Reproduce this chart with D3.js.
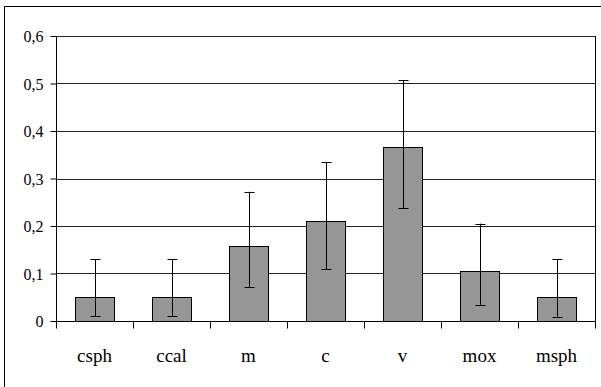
<!DOCTYPE html>
<html>
<head>
<meta charset="utf-8">
<script src="https://cdn.jsdelivr.net/npm/d3@7"></script>
<style>
  body { margin: 0; background: #fff; }
  svg { display: block; }
  svg text { font-family: 'Liberation Serif', 'Times New Roman', Tinos, 'DejaVu Serif', serif; }
</style>
</head>
<body>
<div id="chart"></div>
<script>
const categories = ['csph', 'ccal', 'm', 'c', 'v', 'mox', 'msph'];
const values = [0.051, 0.051, 0.158, 0.21, 0.366, 0.106, 0.051];
const errLow = [0.010, 0.010, 0.072, 0.109, 0.237, 0.034, 0.009];
const errHigh = [0.130, 0.130, 0.272, 0.334, 0.507, 0.205, 0.130];
const yTicks = [0, 0.1, 0.2, 0.3, 0.4, 0.5, 0.6];

const W = 601, H = 387;
const margin = { top: 36, right: 6, bottom: 66, left: 56 };
const width = W - margin.left - margin.right;
const height = H - margin.top - margin.bottom;

const svg = d3.select('#chart').append('svg')
  .attr('width', W)
  .attr('height', H);

// outer chart frame
svg.append('rect')
  .attr('x', 4.5).attr('y', 6.5)
  .attr('width', W).attr('height', H)
  .attr('fill', 'none')
  .attr('stroke', '#000')
  .attr('stroke-width', 1);

const g = svg.append('g')
  .attr('transform', 'translate(' + margin.left + ',' + margin.top + ')');

const x = d3.scaleBand().domain(categories).range([0, width]).paddingInner(0.5).paddingOuter(0.25);
const xBand = d3.scaleBand().domain(categories).range([0, width]);
const y = d3.scaleLinear().domain([0, 0.6]).range([height, 0]);

const fmt = d => String(d).replace('.', ',');

// gridlines
g.append('g')
  .selectAll('line')
  .data(yTicks.slice(1))
  .enter().append('line')
  .attr('x1', 0).attr('x2', width)
  .attr('y1', d => Math.round(y(d)) + 0.5)
  .attr('y2', d => Math.round(y(d)) + 0.5)
  .attr('stroke', '#222')
  .attr('stroke-width', 1);

// right border
g.append('line')
  .attr('x1', width + 0.5).attr('x2', width + 0.5)
  .attr('y1', 0).attr('y2', height)
  .attr('stroke', '#000');

// bars
g.selectAll('.bar')
  .data(categories)
  .enter().append('rect')
  .attr('class', 'bar')
  .attr('x', d => Math.round(x(d)) + 0.5)
  .attr('y', (d, i) => Math.round(y(values[i])) + 0.5)
  .attr('width', Math.round(x.bandwidth()))
  .attr('height', (d, i) => Math.round(height - y(values[i])))
  .attr('fill', '#969696')
  .attr('stroke', '#000')
  .attr('stroke-width', 1);

// error bars
const eb = g.selectAll('.err')
  .data(categories)
  .enter().append('g')
  .attr('class', 'err')
  .attr('transform', d => 'translate(' + (Math.round(x(d) + x.bandwidth() / 2) + 0.5) + ',0)');
eb.append('line')
  .attr('y1', (d, i) => y(errLow[i]))
  .attr('y2', (d, i) => y(errHigh[i]))
  .attr('stroke', '#000');
eb.append('line')
  .attr('x1', -5).attr('x2', 5)
  .attr('y1', (d, i) => Math.round(y(errLow[i])) + 0.5)
  .attr('y2', (d, i) => Math.round(y(errLow[i])) + 0.5)
  .attr('stroke', '#000');
eb.append('line')
  .attr('x1', -5).attr('x2', 5)
  .attr('y1', (d, i) => Math.round(y(errHigh[i])) + 0.5)
  .attr('y2', (d, i) => Math.round(y(errHigh[i])) + 0.5)
  .attr('stroke', '#000');

// y axis
const yAxis = g.append('g')
  .attr('transform', 'translate(0.5,0)')
  .call(d3.axisLeft(y).tickValues(yTicks).tickFormat(fmt).tickSize(6).tickSizeOuter(0));
yAxis.attr('font-family', null);
yAxis.select('.domain').attr('stroke', '#000').attr('d', 'M0,0V' + (height + 7));
yAxis.selectAll('.tick line').attr('stroke', '#000');
yAxis.selectAll('.tick text')
  .attr('x', -13)
  .attr('dy', '0.36em')
  .style('font-size', '16px')
  .attr('fill', '#000');

// x axis
const xAxis = g.append('g')
  .attr('transform', 'translate(0,' + (height + 0.5) + ')');
xAxis.append('line')
  .attr('x1', 0).attr('x2', width + 1)
  .attr('stroke', '#000');
xAxis.selectAll('.xt')
  .data(categories.concat(['end']))
  .enter().append('line')
  .attr('class', 'xt')
  .attr('x1', (d, i) => Math.round(i < categories.length ? xBand(d) : width) + 0.5)
  .attr('x2', (d, i) => Math.round(i < categories.length ? xBand(d) : width) + 0.5)
  .attr('y1', 0).attr('y2', 7)
  .attr('stroke', '#000');
xAxis.selectAll('.xl')
  .data(categories)
  .enter().append('text')
  .attr('class', 'xl')
  .attr('x', d => xBand(d) + xBand.bandwidth() / 2)
  .attr('y', 40)
  .attr('text-anchor', 'middle')
  .style('font-size', '19px')
  .attr('fill', '#000')
  .text(d => d);
</script>
</body>
</html>
